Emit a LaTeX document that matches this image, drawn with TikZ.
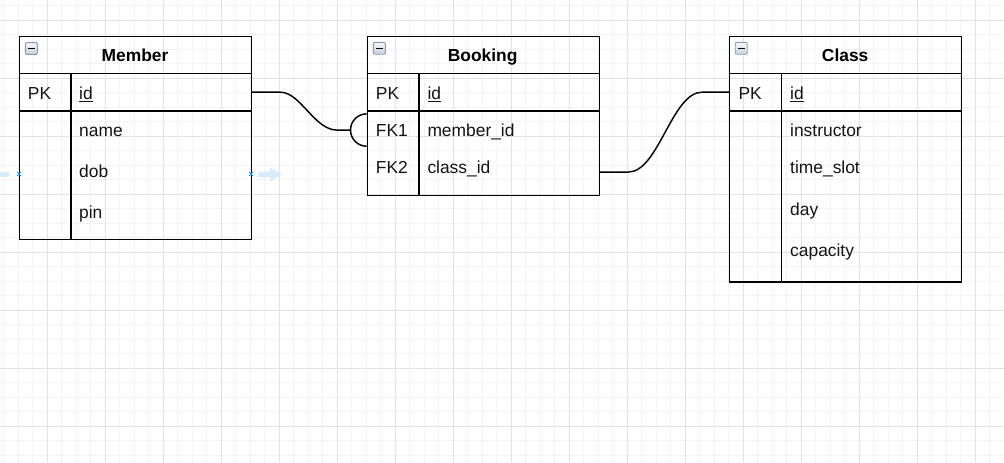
\documentclass[tikz,border=0pt]{standalone}
\usepackage{fontspec}
\setmainfont{Liberation Sans}
\usetikzlibrary{calc}
\definecolor{gridminor}{HTML}{F3F3F3}
\definecolor{gridmajor}{HTML}{E2E2E2}
\definecolor{iconborder}{HTML}{8C9AAE}
\definecolor{icontop}{HTML}{F4F6F9}
\definecolor{iconbot}{HTML}{C9D1DC}
\definecolor{hoverblue}{HTML}{D6ECFB}
\definecolor{markblue}{HTML}{1E9BE0}
\tikzset{
  tablebox/.style={draw=black, line width=1.45pt, inner sep=0pt, anchor=north west, minimum width=232pt},
  rowbox/.style={inner sep=0pt, anchor=north west, minimum width=232pt},
  sepline/.style={draw=black, line width=1.45pt},
  pkline/.style={draw=black, line width=2pt},
  conn/.style={draw=black, line width=1.45pt},
  titletext/.style={font=\fontsize{17.4pt}{20pt}\selectfont\bfseries, inner sep=0pt, anchor=base},
  celltext/.style={font=\fontsize{17.4pt}{20pt}\selectfont, inner sep=0pt, anchor=base west, text=black!92},
  iconbox/.style={draw=iconborder, line width=0.9pt, top color=icontop, bottom color=iconbot, rounded corners=1pt},
}
\begin{document}
\begin{tikzpicture}[x=1pt,y=-1pt]
\useasboundingbox (0,0) rectangle (1004,463);
\fill[white] (0,0) rectangle (1004,463);
% grid
\foreach \i in {0,...,69} {
  \draw[gridminor, line width=0.8pt] ({3.8+14.5*\i},0) -- ({3.8+14.5*\i},463);
}
\foreach \j in {0,...,31} {
  \draw[gridminor, line width=0.8pt] (0,{5.8+14.5*\j}) -- (1004,{5.8+14.5*\j});
}
\foreach \i in {0,...,16} {
  \draw[gridmajor, line width=0.9pt] ({47.3+58*\i},0) -- ({47.3+58*\i},463);
}
\foreach \j in {0,...,7} {
  \draw[gridmajor, line width=0.9pt] (0,{20.3+58*\j}) -- (1004,{20.3+58*\j});
}

% hover artefacts
\fill[hoverblue] (0,171.8) rectangle (9,177);
\fill[hoverblue] (258,171.5) -- (270,171.5) -- (270,167.5) -- (282,174.3) -- (270,181.2) -- (270,177.2) -- (258,177.2) -- cycle;

% ---------- Member ----------
\node[tablebox, minimum height=203pt] (member) at (19,35.7) {};
\node[rowbox, minimum height=37.6pt] (m-hdr) at (19,35.7) {};
\node[rowbox, minimum height=37.4pt] (m-pk) at (19,73.3) {};
\draw[sepline] (m-pk.north west) -- (m-pk.north east);
\draw[pkline] (m-pk.south west) -- (m-pk.south east);
\draw[sepline] (71,73.3) -- (71,238.7);
\draw[iconbox] (25.4,42.6) rectangle (37.4,54.3);
\draw[black, line width=1.4pt] (28,48.4) -- (34.8,48.4);
\node[titletext] at (135,61.7) {Member};
\node[celltext] at (27.7,99.3) {PK};
\node[celltext] at (79,99.3) {\underline{id}};
\node[celltext] at (79,136.7) {name};
\node[celltext] at (79,177) {dob};
\node[celltext] at (79,218.3) {pin};

% ---------- Booking ----------
\node[tablebox, minimum height=159pt] (booking) at (366.7,35.7) {};
\node[rowbox, minimum height=37.4pt] (b-pk) at (366.7,73.3) {};
\node[rowbox, minimum height=38.3pt] (b-fk1) at (366.7,110.7) {};
\node[rowbox, minimum height=45.7pt] (b-fk2) at (366.7,149) {};
\draw[sepline] (b-pk.north west) -- (b-pk.north east);
\draw[pkline] (b-pk.south west) -- (b-pk.south east);
\draw[sepline] (419,73.3) -- (419,194.7);
\draw[iconbox] (373.4,42.4) rectangle (385.4,54.2);
\draw[black, line width=1.4pt] (376,48.3) -- (382.8,48.3);
\node[titletext] at (482.7,61.7) {Booking};
\node[celltext] at (375.7,99.3) {PK};
\node[celltext] at (427.3,99.3) {\underline{id}};
\node[celltext] at (375.7,136.7) {FK1};
\node[celltext] at (427.3,136.7) {member\_id};
\node[celltext] at (375.7,173.3) {FK2};
\node[celltext] at (427.3,173.3) {class\_id};

% ---------- Class ----------
\node[tablebox, minimum height=245.6pt] (class) at (729,35.7) {};
\node[rowbox, minimum height=37.4pt] (c-pk) at (729,73.3) {};
\draw[sepline] (c-pk.north west) -- (c-pk.north east);
\draw[pkline] (c-pk.south west) -- (c-pk.south east);
\draw[sepline] (781.7,73.3) -- (781.7,281.3);
\draw[iconbox] (735.2,42.4) rectangle (747.2,54.2);
\draw[black, line width=1.4pt] (737.8,48.3) -- (744.6,48.3);
\node[titletext] at (845.2,61.7) {Class};
\node[celltext] at (738.3,99.3) {PK};
\node[celltext] at (790,99.3) {\underline{id}};
\node[celltext] at (790,136.7) {instructor};
\node[celltext] at (790,173.3) {time\_slot};
\node[celltext] at (790,215) {day};
\node[celltext] at (790,256) {capacity};

% ---------- connectors ----------
\coordinate (fk1-end) at ($(b-fk1.west)+(-16,0)$);
\draw[conn] (m-pk.east) -- ++(29,0)
  .. controls ++(20,0) and ($(fk1-end)+(-36,0)$) .. ($(fk1-end)+(-14,0)$) -- (fk1-end);
\draw[conn] ($(b-fk1.west)+(0,-16.2)$) arc[start angle=270, end angle=90, radius=16.2];
\draw[conn] (b-fk2.east) -- ++(29.3,0)
  .. controls ++(30,0) and ($(c-pk.west)+(-57,0)$) .. ($(c-pk.west)+(-27,0)$) -- (c-pk.west);

% connection markers
\draw[markblue, line width=0.8pt] (17,172) -- (21,176) (17,176) -- (21,172);
\draw[markblue, line width=0.8pt] (249,172) -- (253,176) (249,176) -- (253,172);
\end{tikzpicture}
\end{document}
